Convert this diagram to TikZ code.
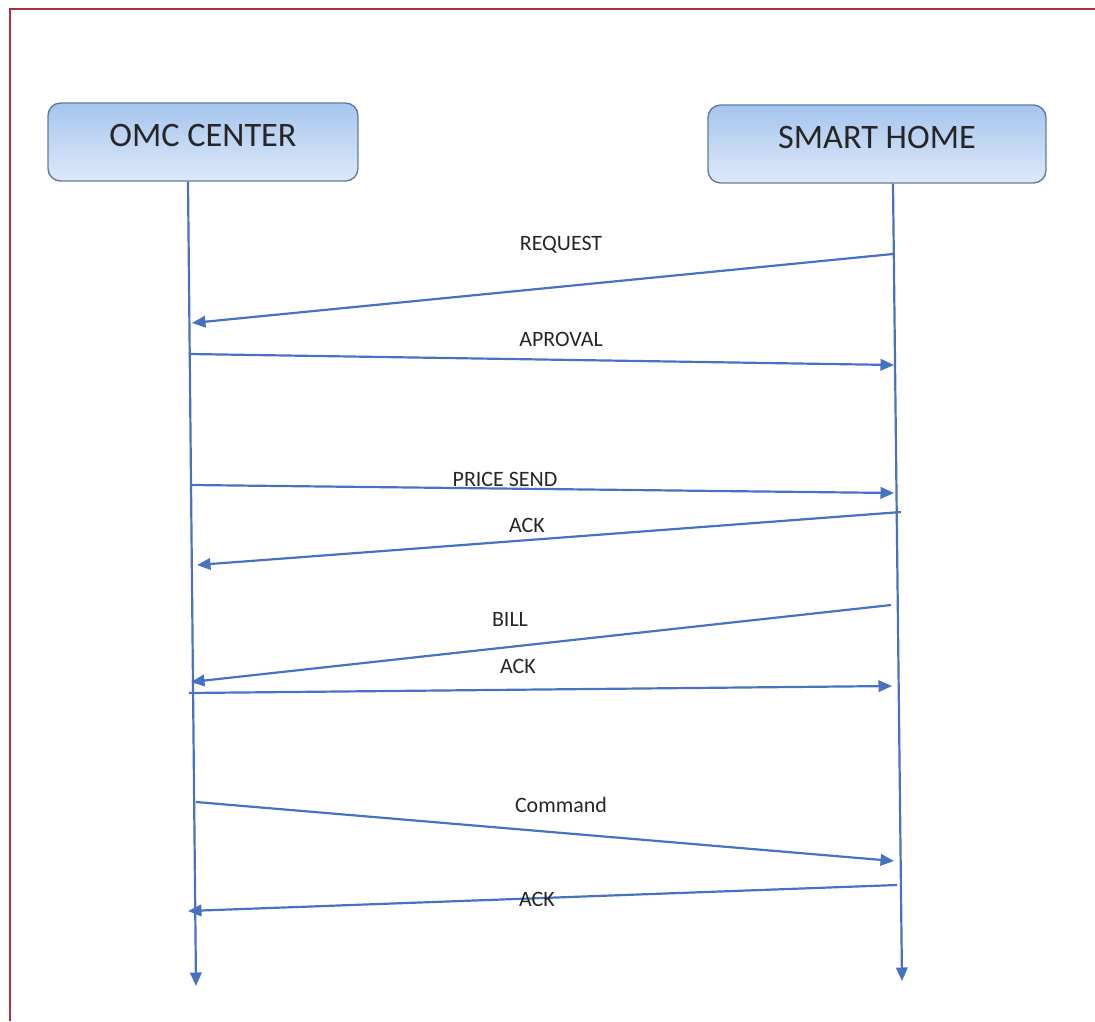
\documentclass[tikz,border=0pt]{standalone}
\usepackage{fontspec}
\setmainfont{Carlito}
\usepackage{xcolor}
\usetikzlibrary{arrows.meta, positioning}
\definecolor{msgblue}{RGB}{70,114,192}
\definecolor{boxedge}{RGB}{96,124,156}
\definecolor{boxtop}{RGB}{166,197,238}
\definecolor{boxbot}{RGB}{222,233,249}
\definecolor{framered}{RGB}{175,45,60}

\begin{document}
\begin{tikzpicture}[
    x=0.02cm, y=-0.02cm,
    >={Triangle[length=0.27cm,width=0.23cm]},
    entity/.style={draw=boxedge, line width=0.8pt, rounded corners=0.25cm,
        top color=boxtop, bottom color=boxbot, minimum height=1.56cm,
        text depth=0.25cm, font=\fontsize{19.5}{22}\selectfont, text=black!85},
    msg/.style={->, draw=msgblue, line width=1.25pt},
    msg label/.style={font=\fontsize{12.5}{14}\selectfont, text=black!85, inner sep=1pt}
]
    \useasboundingbox (0,0) rectangle (1095,1021);

    % --- FRAME ---
    \draw[framered, line width=0.8pt] (10,1021) -- (10,9) -- (1095,9);

    % --- ENTITIES ---
    \node[entity, minimum width=6.2cm] (omc) at (203,142) {OMC CENTER};
    \node[entity, minimum width=6.76cm] (home) at (877,144) {SMART HOME};

    % --- LIFELINES ---
    \coordinate (omcEnd) at (196,986);
    \coordinate (homeEnd) at (902,981);
    \draw[msg] ([xshift=-0.3cm]omc.south) -- (omcEnd);
    \draw[msg] ([xshift=0.32cm]home.south) -- (homeEnd);

    % --- MESSAGE END POINTS ---
    \coordinate (h1) at (893,254); \coordinate (o1) at (192,323); % request
    \coordinate (o2) at (190,354); \coordinate (h2) at (894,365); % aproval
    \coordinate (o3) at (192,485); \coordinate (h3) at (894,493); % price send
    \coordinate (h4) at (901,512); \coordinate (o4) at (197,565); % ack
    \coordinate (h5) at (891,605); \coordinate (o5) at (191,682); % bill
    \coordinate (o6) at (189,693); \coordinate (h6) at (892,686); % ack
    \coordinate (o7) at (196,802); \coordinate (h7) at (894,861); % command
    \coordinate (h8) at (897,885); \coordinate (o8) at (188,911); % ack

    % --- MESSAGES ---
    \draw[msg] (h1) -- (o1);
    \draw[msg] (o2) -- (h2);
    \draw[msg] (o3) -- (h3);
    \draw[msg] (h4) -- (o4);
    \draw[msg] (h5) -- (o5);
    \draw[msg] (o6) -- (h6);
    \draw[msg] (o7) -- (h7);
    \draw[msg] (h8) -- (o8);

    % --- LABELS ---
    \node[msg label] (lRequest) at (561,245) {REQUEST};
    \node[msg label] (lAproval) at (561,339) {APROVAL};
    \node[msg label] (lPrice) at (505,479) {PRICE SEND};
    \node[msg label] (lAck1) at (527,525) {ACK};
    \node[msg label] (lBill) at (510,619) {BILL};
    \node[msg label] (lAck2) at (518,666) {ACK};
    \node[msg label] (lCommand) at (561,805) {Command};
    \node[msg label] (lAck3) at (537,899) {ACK};

\end{tikzpicture}
\end{document}
